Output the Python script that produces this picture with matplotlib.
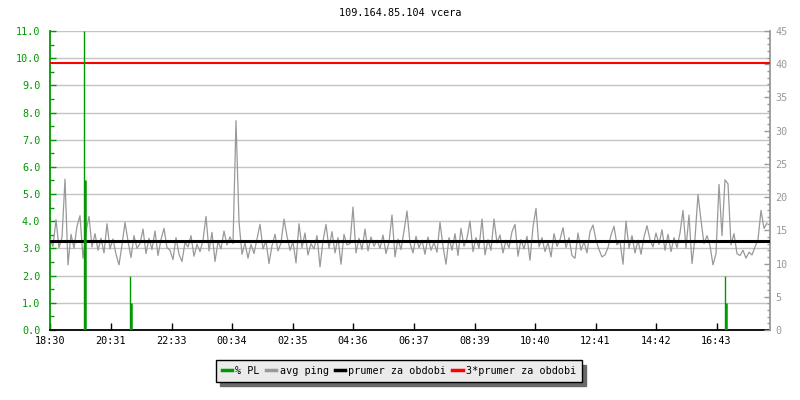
import numpy as np
import matplotlib
matplotlib.use("Agg")
import matplotlib.pyplot as plt
from matplotlib.lines import Line2D

title = "109.164.85.104 vcera"
x_tick_labels = ["18:30", "20:31", "22:33", "00:34", "02:35", "04:36",
                 "06:37", "08:39", "10:40", "12:41", "14:42", "16:43"]

# avg ping [ms], one sample every 6 minutes starting 18:30
ping_step_min = 6
avg_ping = [
    13.6, 12.6, 16.6, 12.4, 13.9, 22.7, 9.8, 14.4, 12.3, 15.6,
    17.2, 10.8, 14.8, 17.1, 12.5, 14.5, 12.0, 13.8, 11.6, 16.0,
    12.2, 13.7, 11.4, 9.8, 12.8, 16.2, 13.4, 10.9, 14.2, 12.3,
    13.0, 15.2, 11.5, 13.8, 12.1, 14.9, 11.2, 13.6, 15.3, 12.4,
    12.0, 10.6, 13.9, 11.4, 10.3, 13.2, 12.5, 14.2, 11.1, 12.9,
    11.8, 13.5, 17.1, 11.9, 14.7, 10.3, 13.3, 12.2, 14.9, 12.8,
    14.0, 13.0, 31.5, 16.3, 11.4, 13.1, 10.8, 12.9, 11.5, 13.7,
    15.9, 12.2, 13.4, 10.0, 12.7, 14.4, 11.9, 13.1, 16.7, 14.1,
    12.0, 13.3, 10.1, 16.0, 12.4, 14.6, 11.3, 13.0, 12.2, 14.2,
    9.5, 13.4, 15.9, 12.3, 14.8, 11.6, 13.9, 9.9, 14.4, 12.8,
    13.0, 18.5, 11.6, 13.8, 12.1, 15.2, 11.9, 14.0, 12.6, 13.5,
    12.3, 14.3, 11.5, 13.2, 17.3, 11.0, 13.7, 12.1, 14.9, 17.9,
    13.1, 11.6, 14.1, 12.4, 13.5, 11.4, 14.0, 12.0, 13.2, 11.7,
    16.2, 12.6, 9.9, 13.9, 12.0, 14.5, 11.2, 15.3, 12.6, 13.8,
    16.4, 11.8, 13.9, 12.3, 16.7, 11.3, 13.6, 12.0, 16.7, 13.1,
    14.3, 11.6, 13.5, 12.4, 14.8, 15.9, 11.1, 13.6, 12.2, 14.1,
    10.5, 15.5, 18.3, 12.5, 13.9, 11.8, 13.2, 11.0, 14.5, 12.6,
    13.6, 15.4, 12.4, 13.9, 11.2, 10.8, 14.6, 12.0, 13.3, 11.6,
    14.8, 15.8, 13.5, 12.1, 11.0, 11.3, 12.4, 14.3, 15.6, 12.8,
    13.4, 9.9, 16.4, 12.3, 14.2, 11.6, 13.5, 11.4, 14.0, 15.7,
    13.6, 12.5, 14.6, 12.9, 15.1, 12.0, 14.4, 11.8, 13.9, 12.4,
    14.6, 18.0, 12.3, 17.3, 10.0, 13.8, 20.4, 16.5, 13.0, 14.2,
    12.7, 9.8, 11.5, 21.9, 14.2, 22.6, 22.0, 12.8, 14.5, 11.5,
    11.2, 12.0, 10.8, 11.7, 11.3, 12.5, 13.6, 18.0, 15.3, 16.1,
]
avg_period = 13.4          # prumer za obdobi [ms]
triple_avg = 3 * avg_period

# packet loss [%]: minutes after 18:30 and values
pl_minutes = [68, 70, 160, 162, 1349, 1351]
pl_values = [11.0, 5.5, 2.0, 1.0, 2.0, 1.0]
pl_widths = [1.0, 1.8, 1.0, 1.8, 1.0, 1.8]

GREEN = "#009900"
GRAY = "#999999"
GRID = "#c4c4c4"
FONT = "DejaVu Sans Mono"


def to_minutes(label):
    h, m = map(int, label.split(":"))
    return ((h * 60 + m) - (18 * 60 + 30)) % 1440


tick_pos = [to_minutes(l) for l in x_tick_labels]

fig = plt.figure(figsize=(8, 4), dpi=100)
ax = fig.add_axes([50 / 800, 1 - 330 / 400, 720 / 800, 299 / 400])
ax2 = ax.twinx()

# left axis (PL)
ax.set_xlim(0, 1440)
ax.set_ylim(0, 11)
ax.set_yticks(np.arange(0, 11.5, 1.0))
ax.set_yticklabels([f"{v:.1f}" for v in np.arange(0, 11.5, 1.0)],
                   fontfamily=FONT, fontsize=7.3, color=GREEN)
ax.set_yticks(np.arange(0.5, 11, 1.0), minor=True)
ax.tick_params(axis="y", which="major", direction="in", length=4,
               color=GREEN, width=1, pad=7)
ax.tick_params(axis="y", which="minor", direction="in", length=3,
               color=GREEN, width=1)
for y in np.arange(1, 11.5, 1.0):
    ax.axhline(y, color=GRID, lw=1.0, zorder=0)

ax.set_xticks(tick_pos)
ax.set_xticklabels(x_tick_labels, fontfamily=FONT, fontsize=7.3)
ax.tick_params(axis="x", direction="in", length=5, width=1, color="black", pad=4)

ax.spines["top"].set_visible(False)
ax.spines["right"].set_visible(False)
ax.spines["left"].set_color(GREEN)
ax.spines["left"].set_linewidth(1.3)
ax.spines["bottom"].set_color("black")
ax.spines["bottom"].set_linewidth(1.3)

# right axis (ping ms)
ax2.set_ylim(0, 45)
ax2.set_yticks(np.arange(0, 46, 5))
ax2.set_yticklabels([str(v) for v in range(0, 46, 5)],
                    fontfamily=FONT, fontsize=7.3, color=GRAY)
ax2.set_yticks(np.arange(0, 46, 1), minor=True)
ax2.tick_params(axis="y", which="major", direction="in", length=4,
                color=GRAY, width=1, pad=4)
ax2.tick_params(axis="y", which="minor", direction="in", length=2.5,
                color=GRAY, width=1)
for s in ["top", "left", "bottom"]:
    ax2.spines[s].set_visible(False)
ax2.spines["right"].set_color(GRAY)
ax2.spines["right"].set_linewidth(1.3)

t_ping = np.arange(len(avg_ping)) * ping_step_min
ax2.plot(t_ping, avg_ping, color=GRAY, lw=0.9, zorder=2)
ax2.axhline(avg_period, color="black", lw=2.2, zorder=3)
ax2.axhline(triple_avg, color="red", lw=1.5, zorder=3)
ax2.vlines(pl_minutes, 0, pl_values, colors=GREEN, linewidths=pl_widths,
           transform=ax.transData, zorder=4, clip_on=True)

fig.text(0.5, 1 - 13 / 400, title, ha="center", va="center",
         fontfamily=FONT, fontsize=7.3)

handles = [
    Line2D([], [], color=GREEN, lw=2.5),
    Line2D([], [], color=GRAY, lw=2.5),
    Line2D([], [], color="black", lw=2.5),
    Line2D([], [], color="red", lw=2.5),
]
labels = ["% PL", "avg ping", "prumer za obdobi", "3*prumer za obdobi"]
leg = fig.legend(handles, labels, loc="center", ncol=4,
                 bbox_to_anchor=(399 / 800, 1 - 371 / 400),
                 bbox_transform=fig.transFigure,
                 prop={"family": FONT, "size": 7.3},
                 handlelength=1.0, handletextpad=0.35, columnspacing=0.6,
                 borderpad=0.55, fancybox=False, framealpha=1,
                 facecolor="#ebebeb", edgecolor="black",
                 shadow={"ox": 3, "oy": -3, "color": "#6a6a6a", "alpha": 1})
leg.get_frame().set_linewidth(1.0)

fig.savefig("out.png", dpi=100)
